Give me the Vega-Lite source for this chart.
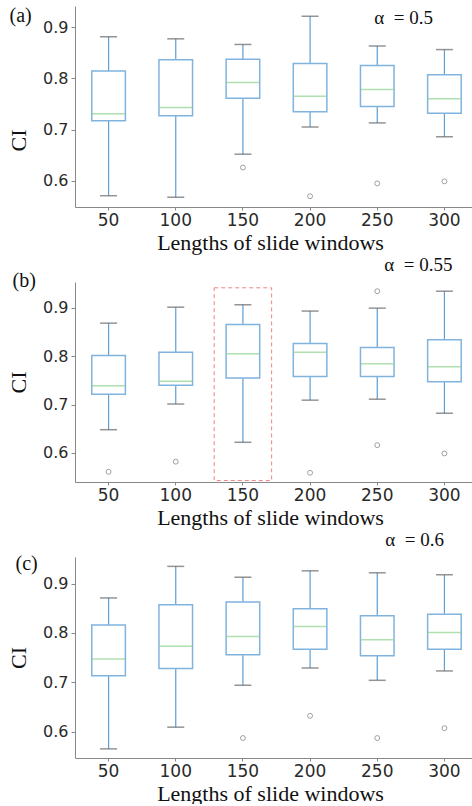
{
  "$schema": "https://vega.github.io/schema/vega-lite/v6.json",
  "padding": {"left": 7, "top": 5, "right": 0, "bottom": 0},
  "bounds": "flush",
  "spacing": 75,
  "datasets": {
    "boxes": [
      {"panel": "a", "window": 50, "lower": 0.571, "q1": 0.717, "median": 0.731, "q3": 0.814, "upper": 0.881},
      {"panel": "a", "window": 100, "lower": 0.568, "q1": 0.727, "median": 0.743, "q3": 0.836, "upper": 0.877},
      {"panel": "a", "window": 150, "lower": 0.652, "q1": 0.761, "median": 0.792, "q3": 0.837, "upper": 0.866},
      {"panel": "a", "window": 200, "lower": 0.705, "q1": 0.735, "median": 0.765, "q3": 0.829, "upper": 0.921},
      {"panel": "a", "window": 250, "lower": 0.713, "q1": 0.745, "median": 0.778, "q3": 0.825, "upper": 0.863},
      {"panel": "a", "window": 300, "lower": 0.686, "q1": 0.732, "median": 0.760, "q3": 0.807, "upper": 0.856},
      {"panel": "b", "window": 50, "lower": 0.648, "q1": 0.721, "median": 0.739, "q3": 0.801, "upper": 0.868},
      {"panel": "b", "window": 100, "lower": 0.701, "q1": 0.740, "median": 0.748, "q3": 0.808, "upper": 0.901},
      {"panel": "b", "window": 150, "lower": 0.622, "q1": 0.755, "median": 0.805, "q3": 0.865, "upper": 0.906},
      {"panel": "b", "window": 200, "lower": 0.709, "q1": 0.758, "median": 0.808, "q3": 0.826, "upper": 0.893},
      {"panel": "b", "window": 250, "lower": 0.711, "q1": 0.758, "median": 0.784, "q3": 0.818, "upper": 0.899},
      {"panel": "b", "window": 300, "lower": 0.682, "q1": 0.747, "median": 0.778, "q3": 0.834, "upper": 0.934},
      {"panel": "c", "window": 50, "lower": 0.565, "q1": 0.713, "median": 0.747, "q3": 0.816, "upper": 0.871},
      {"panel": "c", "window": 100, "lower": 0.609, "q1": 0.728, "median": 0.773, "q3": 0.857, "upper": 0.935},
      {"panel": "c", "window": 150, "lower": 0.694, "q1": 0.756, "median": 0.793, "q3": 0.863, "upper": 0.913},
      {"panel": "c", "window": 200, "lower": 0.729, "q1": 0.767, "median": 0.813, "q3": 0.849, "upper": 0.926},
      {"panel": "c", "window": 250, "lower": 0.704, "q1": 0.754, "median": 0.786, "q3": 0.835, "upper": 0.922},
      {"panel": "c", "window": 300, "lower": 0.723, "q1": 0.767, "median": 0.801, "q3": 0.838, "upper": 0.918}
    ],
    "outliers": [
      {"panel": "a", "window": 150, "value": 0.626},
      {"panel": "a", "window": 200, "value": 0.570},
      {"panel": "a", "window": 250, "value": 0.595},
      {"panel": "a", "window": 300, "value": 0.599},
      {"panel": "b", "window": 50, "value": 0.561},
      {"panel": "b", "window": 100, "value": 0.582},
      {"panel": "b", "window": 200, "value": 0.559},
      {"panel": "b", "window": 250, "value": 0.934},
      {"panel": "b", "window": 250, "value": 0.616},
      {"panel": "b", "window": 300, "value": 0.599},
      {"panel": "c", "window": 150, "value": 0.587},
      {"panel": "c", "window": 200, "value": 0.632},
      {"panel": "c", "window": 250, "value": 0.587},
      {"panel": "c", "window": 300, "value": 0.607}
    ],
    "labels": [
      {"panel": "a", "tag": "(a)", "alpha": "α\u00a0\u00a0= 0.5", "tagY": 0.910, "alphaY": 0.906},
      {"panel": "b", "tag": "(b)", "alpha": "α\u00a0\u00a0= 0.55", "tagY": 0.943, "alphaY": 0.976},
      {"panel": "c", "tag": "(c)", "alpha": "α\u00a0\u00a0= 0.6", "tagY": 0.928, "alphaY": 0.976}
    ],
    "highlight": [
      {"panel": "b", "window": 150, "low": 0.543, "high": 0.941}
    ]
  },
  "vconcat": [
    {
      "width": 403,
      "height": 201,
      "encoding": {
        "x": {"field": "window", "type": "ordinal", "scale": {"type": "band", "paddingInner": 0, "paddingOuter": 0}, "title": "Lengths of slide windows"}
      },
      "layer": [
        {"data": {"name": "boxes"}, "transform": [{"filter": "datum.panel === 'a'"}],
         "mark": {"type": "rule", "color": "#5b9fd6", "strokeWidth": 1.2},
         "encoding": {"y": {"field": "lower", "type": "quantitative", "scale": {"domain": [0.549, 0.941], "nice": false, "zero": false}, "title": "CI", "axis": {"titleY": 134, "values": [0.6, 0.7, 0.8, 0.9], "format": ".1f"}}, "y2": {"field": "upper"}}},
        {"data": {"name": "boxes"}, "transform": [{"filter": "datum.panel === 'a'"}],
         "mark": {"type": "tick", "color": "#666", "size": 17, "thickness": 1.5},
         "encoding": {"y": {"field": "lower", "type": "quantitative", "title": "CI"}}},
        {"data": {"name": "boxes"}, "transform": [{"filter": "datum.panel === 'a'"}],
         "mark": {"type": "tick", "color": "#666", "size": 17, "thickness": 1.5},
         "encoding": {"y": {"field": "upper", "type": "quantitative", "title": "CI"}}},
        {"data": {"name": "boxes"}, "transform": [{"filter": "datum.panel === 'a'"}],
         "mark": {"type": "bar", "width": {"band": 0.5}, "fill": "white", "stroke": "#80b3de", "strokeWidth": 1.5},
         "encoding": {"y": {"field": "q1", "type": "quantitative", "title": "CI"}, "y2": {"field": "q3"}}},
        {"data": {"name": "boxes"}, "transform": [{"filter": "datum.panel === 'a'"}],
         "mark": {"type": "tick", "color": "#8fd18f", "size": 33, "thickness": 1.5},
         "encoding": {"y": {"field": "median", "type": "quantitative", "title": "CI"}}},
        {"data": {"name": "outliers"}, "transform": [{"filter": "datum.panel === 'a'"}],
         "mark": {"type": "point", "shape": "circle", "filled": false, "stroke": "#777", "strokeWidth": 1, "size": 24},
         "encoding": {"y": {"field": "value", "type": "quantitative", "title": "CI"}}},
        {"data": {"name": "labels"}, "transform": [{"filter": "datum.panel === 'a'"}],
         "mark": {"type": "text", "font": "Liberation Serif", "fontSize": 20, "align": "left", "baseline": "alphabetic", "dx": -99, "color": "#111"},
         "encoding": {"x": {"datum": 50}, "y": {"field": "tagY", "type": "quantitative", "title": "CI"}, "text": {"field": "tag"}}},
        {"data": {"name": "labels"}, "transform": [{"filter": "datum.panel === 'a'"}],
         "mark": {"type": "text", "font": "Liberation Serif", "fontSize": 19, "align": "left", "baseline": "alphabetic", "dx": -3, "color": "#111"},
         "encoding": {"x": {"datum": 250}, "y": {"field": "alphaY", "type": "quantitative", "title": "CI"}, "text": {"field": "alpha"}}}
      ]
    },
    {
      "width": 403,
      "height": 200,
      "encoding": {
        "x": {"field": "window", "type": "ordinal", "scale": {"type": "band", "paddingInner": 0, "paddingOuter": 0}, "title": "Lengths of slide windows"}
      },
      "layer": [
        {"data": {"name": "highlight"}, "transform": [{"filter": "datum.panel === 'b'"}],
         "mark": {"type": "bar", "width": {"band": 0.855}, "fill": "white", "fillOpacity": 0, "stroke": "#f08585", "strokeWidth": 1, "strokeDash": [4, 3]},
         "encoding": {"y": {"field": "low", "type": "quantitative", "scale": {"domain": [0.540, 0.953], "nice": false, "zero": false}, "title": "CI", "axis": {"values": [0.6, 0.7, 0.8, 0.9], "format": ".1f"}}, "y2": {"field": "high"}}},
        {"data": {"name": "boxes"}, "transform": [{"filter": "datum.panel === 'b'"}],
         "mark": {"type": "rule", "color": "#5b9fd6", "strokeWidth": 1.2},
         "encoding": {"y": {"field": "lower", "type": "quantitative", "title": "CI"}, "y2": {"field": "upper"}}},
        {"data": {"name": "boxes"}, "transform": [{"filter": "datum.panel === 'b'"}],
         "mark": {"type": "tick", "color": "#666", "size": 17, "thickness": 1.5},
         "encoding": {"y": {"field": "lower", "type": "quantitative", "title": "CI"}}},
        {"data": {"name": "boxes"}, "transform": [{"filter": "datum.panel === 'b'"}],
         "mark": {"type": "tick", "color": "#666", "size": 17, "thickness": 1.5},
         "encoding": {"y": {"field": "upper", "type": "quantitative", "title": "CI"}}},
        {"data": {"name": "boxes"}, "transform": [{"filter": "datum.panel === 'b'"}],
         "mark": {"type": "bar", "width": {"band": 0.5}, "fill": "white", "stroke": "#80b3de", "strokeWidth": 1.5},
         "encoding": {"y": {"field": "q1", "type": "quantitative", "title": "CI"}, "y2": {"field": "q3"}}},
        {"data": {"name": "boxes"}, "transform": [{"filter": "datum.panel === 'b'"}],
         "mark": {"type": "tick", "color": "#8fd18f", "size": 33, "thickness": 1.5},
         "encoding": {"y": {"field": "median", "type": "quantitative", "title": "CI"}}},
        {"data": {"name": "outliers"}, "transform": [{"filter": "datum.panel === 'b'"}],
         "mark": {"type": "point", "shape": "circle", "filled": false, "stroke": "#777", "strokeWidth": 1, "size": 24},
         "encoding": {"y": {"field": "value", "type": "quantitative", "title": "CI"}}},
        {"data": {"name": "labels"}, "transform": [{"filter": "datum.panel === 'b'"}],
         "mark": {"type": "text", "font": "Liberation Serif", "fontSize": 20, "align": "left", "baseline": "alphabetic", "dx": -96, "color": "#111"},
         "encoding": {"x": {"datum": 50}, "y": {"field": "tagY", "type": "quantitative", "title": "CI"}, "text": {"field": "tag"}}},
        {"data": {"name": "labels"}, "transform": [{"filter": "datum.panel === 'b'"}],
         "mark": {"type": "text", "font": "Liberation Serif", "fontSize": 19, "align": "left", "baseline": "alphabetic", "dx": 7, "color": "#111"},
         "encoding": {"x": {"datum": 250}, "y": {"field": "alphaY", "type": "quantitative", "title": "CI"}, "text": {"field": "alpha"}}}
      ]
    },
    {
      "width": 403,
      "height": 201,
      "encoding": {
        "x": {"field": "window", "type": "ordinal", "scale": {"type": "band", "paddingInner": 0, "paddingOuter": 0}, "title": "Lengths of slide windows"}
      },
      "layer": [
        {"data": {"name": "boxes"}, "transform": [{"filter": "datum.panel === 'c'"}],
         "mark": {"type": "rule", "color": "#5b9fd6", "strokeWidth": 1.2},
         "encoding": {"y": {"field": "lower", "type": "quantitative", "scale": {"domain": [0.5465, 0.954], "nice": false, "zero": false}, "title": "CI", "axis": {"values": [0.6, 0.7, 0.8, 0.9], "format": ".1f"}}, "y2": {"field": "upper"}}},
        {"data": {"name": "boxes"}, "transform": [{"filter": "datum.panel === 'c'"}],
         "mark": {"type": "tick", "color": "#666", "size": 17, "thickness": 1.5},
         "encoding": {"y": {"field": "lower", "type": "quantitative", "title": "CI"}}},
        {"data": {"name": "boxes"}, "transform": [{"filter": "datum.panel === 'c'"}],
         "mark": {"type": "tick", "color": "#666", "size": 17, "thickness": 1.5},
         "encoding": {"y": {"field": "upper", "type": "quantitative", "title": "CI"}}},
        {"data": {"name": "boxes"}, "transform": [{"filter": "datum.panel === 'c'"}],
         "mark": {"type": "bar", "width": {"band": 0.5}, "fill": "white", "stroke": "#80b3de", "strokeWidth": 1.5},
         "encoding": {"y": {"field": "q1", "type": "quantitative", "title": "CI"}, "y2": {"field": "q3"}}},
        {"data": {"name": "boxes"}, "transform": [{"filter": "datum.panel === 'c'"}],
         "mark": {"type": "tick", "color": "#8fd18f", "size": 33, "thickness": 1.5},
         "encoding": {"y": {"field": "median", "type": "quantitative", "title": "CI"}}},
        {"data": {"name": "outliers"}, "transform": [{"filter": "datum.panel === 'c'"}],
         "mark": {"type": "point", "shape": "circle", "filled": false, "stroke": "#777", "strokeWidth": 1, "size": 24},
         "encoding": {"y": {"field": "value", "type": "quantitative", "title": "CI"}}},
        {"data": {"name": "labels"}, "transform": [{"filter": "datum.panel === 'c'"}],
         "mark": {"type": "text", "font": "Liberation Serif", "fontSize": 20, "align": "left", "baseline": "alphabetic", "dx": -93, "color": "#111"},
         "encoding": {"x": {"datum": 50}, "y": {"field": "tagY", "type": "quantitative", "title": "CI"}, "text": {"field": "tag"}}},
        {"data": {"name": "labels"}, "transform": [{"filter": "datum.panel === 'c'"}],
         "mark": {"type": "text", "font": "Liberation Serif", "fontSize": 19, "align": "left", "baseline": "alphabetic", "dx": 8, "color": "#111"},
         "encoding": {"x": {"datum": 250}, "y": {"field": "alphaY", "type": "quantitative", "title": "CI"}, "text": {"field": "alpha"}}}
      ]
    }
  ],
  "config": {
    "view": {"stroke": null},
    "axis": {"grid": false, "domainColor": "#888", "tickColor": "#888", "labelFont": "DejaVu Sans", "labelFontSize": 16, "labelColor": "#2a2a2a", "titleFont": "Liberation Serif", "titleFontSize": 22, "titleFontWeight": "normal", "titleColor": "#111"},
    "axisX": {"labelAngle": 0, "labelFontSize": 17, "tickSize": 3, "labelPadding": 2, "titlePadding": 4, "titleX": 195},
    "axisY": {"tickSize": 4, "labelPadding": 3, "titlePadding": 12}
  }
}
